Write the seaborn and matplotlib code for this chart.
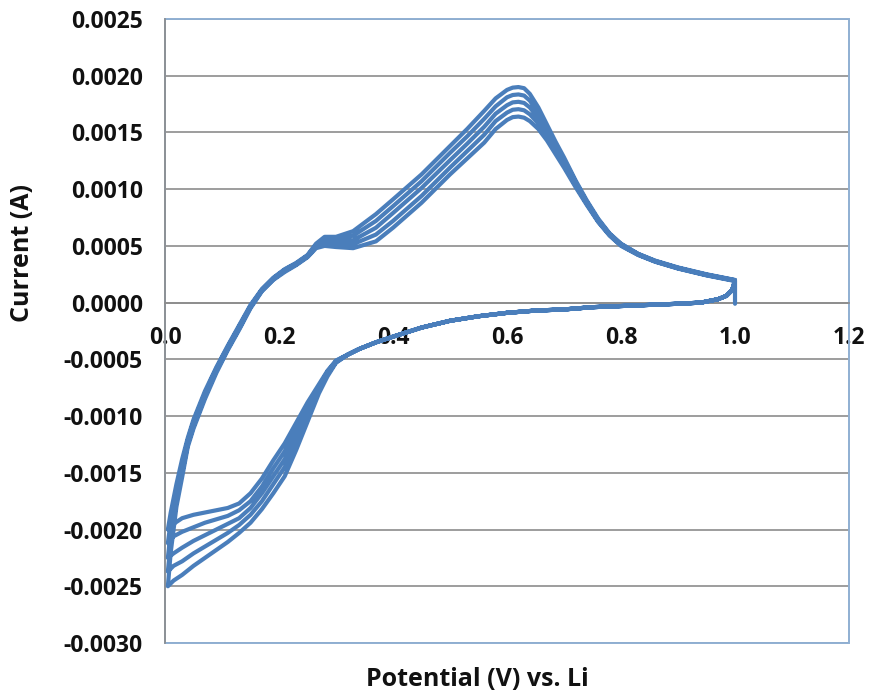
import matplotlib
matplotlib.use("Agg")
import matplotlib.pyplot as plt
from matplotlib.patches import Rectangle
from matplotlib.ticker import FormatStrFormatter, MultipleLocator
import numpy as np
import pandas as pd
import seaborn as sns

# Cyclic voltammetry, five cycles. Currents are given in mA.
cycles = [1, 2, 3, 4, 5]

# Cathodic sweep, upper part (shared by all cycles)
cath_up_v = [0.995, 0.985, 0.97, 0.94, 0.90, 0.85, 0.80, 0.75, 0.70, 0.65,
             0.60, 0.55, 0.50, 0.45, 0.40, 0.37, 0.34, 0.32]
cath_up_ma = [0.11, 0.06, 0.03, 0.00, -0.01, -0.02, -0.03, -0.04, -0.06, -0.07,
              -0.09, -0.12, -0.16, -0.22, -0.30, -0.35, -0.41, -0.46]

# Cathodic sweep, lower part (per cycle)
cath_low_v = [0.30, 0.285, 0.27, 0.25, 0.23, 0.21, 0.19, 0.17, 0.15, 0.13,
              0.11, 0.09, 0.07, 0.05, 0.03, 0.015, 0.005]
cath_low_c1 = [-0.51, -0.60, -0.72, -0.88, -1.06, -1.24, -1.39, -1.55, -1.68, -1.77,
               -1.81, -1.83, -1.85, -1.87, -1.90, -1.95, -2.00]
cath_low_c2 = [-0.515, -0.61, -0.74, -0.92, -1.12, -1.31, -1.46, -1.62, -1.75, -1.83,
               -1.88, -1.91, -1.94, -1.98, -2.02, -2.06, -2.12]
cath_low_c3 = [-0.52, -0.62, -0.76, -0.96, -1.18, -1.38, -1.53, -1.68, -1.81, -1.90,
               -1.95, -2.00, -2.05, -2.10, -2.16, -2.21, -2.25]
cath_low_c4 = [-0.525, -0.63, -0.78, -1.00, -1.24, -1.45, -1.60, -1.75, -1.87, -1.96,
               -2.03, -2.09, -2.15, -2.21, -2.28, -2.32, -2.37]
cath_low_c5 = [-0.53, -0.65, -0.80, -1.05, -1.30, -1.53, -1.68, -1.82, -1.94, -2.03,
               -2.11, -2.18, -2.25, -2.32, -2.40, -2.45, -2.50]

# Anodic sweep (per cycle)
anod_v = [0.005, 0.01, 0.02, 0.03, 0.04, 0.05, 0.07, 0.09, 0.11, 0.13,
          0.15, 0.17, 0.19, 0.21, 0.23, 0.25, 0.265, 0.28, 0.30, 0.33,
          0.37, 0.40, 0.45, 0.50, 0.53, 0.56, 0.58, 0.60, 0.61, 0.62,
          0.63, 0.64, 0.655, 0.67, 0.685, 0.70, 0.72, 0.74, 0.76, 0.78,
          0.80, 0.83, 0.86, 0.90, 0.95, 1.0]
anod_c1 = [-2.00, -1.85, -1.60, -1.38, -1.19, -1.03, -0.78, -0.57, -0.38, -0.20,
           -0.02, 0.12, 0.22, 0.295, 0.35, 0.42, 0.52, 0.58, 0.58, 0.63,
           0.78, 0.91, 1.13, 1.38, 1.53, 1.69, 1.80, 1.875, 1.895, 1.90,
           1.89, 1.84, 1.72, 1.57, 1.42, 1.28, 1.08, 0.90, 0.74, 0.61,
           0.52, 0.43, 0.37, 0.31, 0.25, 0.20]
anod_c2 = [-2.12, -1.93, -1.65, -1.42, -1.21, -1.05, -0.80, -0.58, -0.39, -0.21,
           -0.03, 0.115, 0.215, 0.29, 0.345, 0.415, 0.51, 0.56, 0.555, 0.59,
           0.72, 0.85, 1.07, 1.32, 1.465, 1.62, 1.73, 1.81, 1.83, 1.835,
           1.825, 1.78, 1.67, 1.535, 1.39, 1.26, 1.065, 0.89, 0.73, 0.605,
           0.515, 0.43, 0.367, 0.307, 0.247, 0.198]
anod_c3 = [-2.25, -2.02, -1.70, -1.46, -1.23, -1.07, -0.81, -0.59, -0.40, -0.22,
           -0.035, 0.11, 0.21, 0.285, 0.34, 0.41, 0.50, 0.54, 0.535, 0.55,
           0.66, 0.79, 1.01, 1.255, 1.40, 1.55, 1.665, 1.74, 1.765, 1.77,
           1.76, 1.72, 1.625, 1.50, 1.365, 1.235, 1.05, 0.88, 0.725, 0.60,
           0.51, 0.425, 0.365, 0.305, 0.245, 0.196]
anod_c4 = [-2.37, -2.11, -1.75, -1.50, -1.25, -1.09, -0.83, -0.60, -0.41, -0.23,
           -0.04, 0.105, 0.205, 0.28, 0.335, 0.405, 0.49, 0.52, 0.51, 0.515,
           0.60, 0.72, 0.94, 1.19, 1.335, 1.48, 1.60, 1.675, 1.70, 1.705,
           1.695, 1.66, 1.58, 1.465, 1.34, 1.21, 1.035, 0.87, 0.715, 0.595,
           0.505, 0.422, 0.362, 0.302, 0.242, 0.193]
anod_c5 = [-2.50, -2.20, -1.80, -1.54, -1.27, -1.11, -0.85, -0.62, -0.42, -0.24,
           -0.05, 0.10, 0.20, 0.27, 0.33, 0.40, 0.48, 0.50, 0.49, 0.48,
           0.54, 0.66, 0.88, 1.13, 1.27, 1.41, 1.53, 1.61, 1.635, 1.64,
           1.63, 1.60, 1.53, 1.43, 1.31, 1.19, 1.02, 0.86, 0.71, 0.59,
           0.50, 0.42, 0.36, 0.30, 0.24, 0.19]

# Final potential hold at the upper vertex
hold_v = [1.0]
hold_ma = [-0.01]

cath_low = [cath_low_c1, cath_low_c2, cath_low_c3, cath_low_c4, cath_low_c5]
anod = [anod_c1, anod_c2, anod_c3, anod_c4, anod_c5]

# Build one continuous trace in acquisition order
v_all, i_all = [], []
for k, _ in enumerate(cycles):
    v_all += cath_up_v + cath_low_v + anod_v
    i_all += cath_up_ma + cath_low[k] + anod[k]
v_all += hold_v
i_all += hold_ma
df = pd.DataFrame({"potential": v_all,
                   "current": np.array(i_all) / 1000.0})

sns.set_theme(style="white")
plt.rcParams["font.family"] = ["Open Sans", "DejaVu Sans"]
plt.rcParams["axes.unicode_minus"] = False

fig = plt.figure(figsize=(8.69, 6.98), dpi=100)
ax = fig.add_axes([0.1899, 0.0788, 0.7871, 0.894])

sns.lineplot(data=df, x="potential", y="current", sort=False, estimator=None,
             color="#4A7EBB", lw=3.0, ax=ax, zorder=3)

ax.set_xlim(0, 1.2)
ax.set_ylim(-0.003, 0.0025)
ax.xaxis.set_major_locator(MultipleLocator(0.2))
ax.yaxis.set_major_locator(MultipleLocator(0.0005))
ax.xaxis.set_major_formatter(FormatStrFormatter("%.1f"))
ax.yaxis.set_major_formatter(FormatStrFormatter("%.4f"))

grid_col = "#8C8C8C"
ax.yaxis.grid(True, color=grid_col, lw=1.2)
ax.xaxis.grid(False)

for side in ("top", "right"):
    ax.spines[side].set_visible(False)
ax.spines["left"].set_color(grid_col)
ax.spines["left"].set_linewidth(1.2)
ax.spines["bottom"].set_position(("data", 0))
ax.spines["bottom"].set_color(grid_col)
ax.spines["bottom"].set_linewidth(1.2)

# Plot-area frame
ax.add_patch(Rectangle((0, 0), 1, 1, transform=ax.transAxes, fill=False,
                       edgecolor="#8FAFD2", lw=1.4, zorder=1, clip_on=False))

ax.tick_params(axis="y", direction="out", length=7, width=1.1, color=grid_col,
               pad=9, labelsize=16.5)
ax.tick_params(axis="x", direction="out", length=7, width=1.1, color=grid_col,
               pad=10, labelsize=16.5)
for lab in ax.get_xticklabels() + ax.get_yticklabels():
    lab.set_fontweight("bold")
    lab.set_color("#111111")

ax.set_xlabel("")
ax.set_ylabel("Current (A)", fontsize=18, fontweight="bold", color="#111111")
ax.yaxis.set_label_coords(-0.19, 0.625)
fig.text(477 / 869, 1 - 680 / 698, "Potential (V) vs. Li", fontsize=18,
         fontweight="bold", color="#111111", ha="center", va="center")

fig.savefig("out.png", dpi=100, facecolor="white")
